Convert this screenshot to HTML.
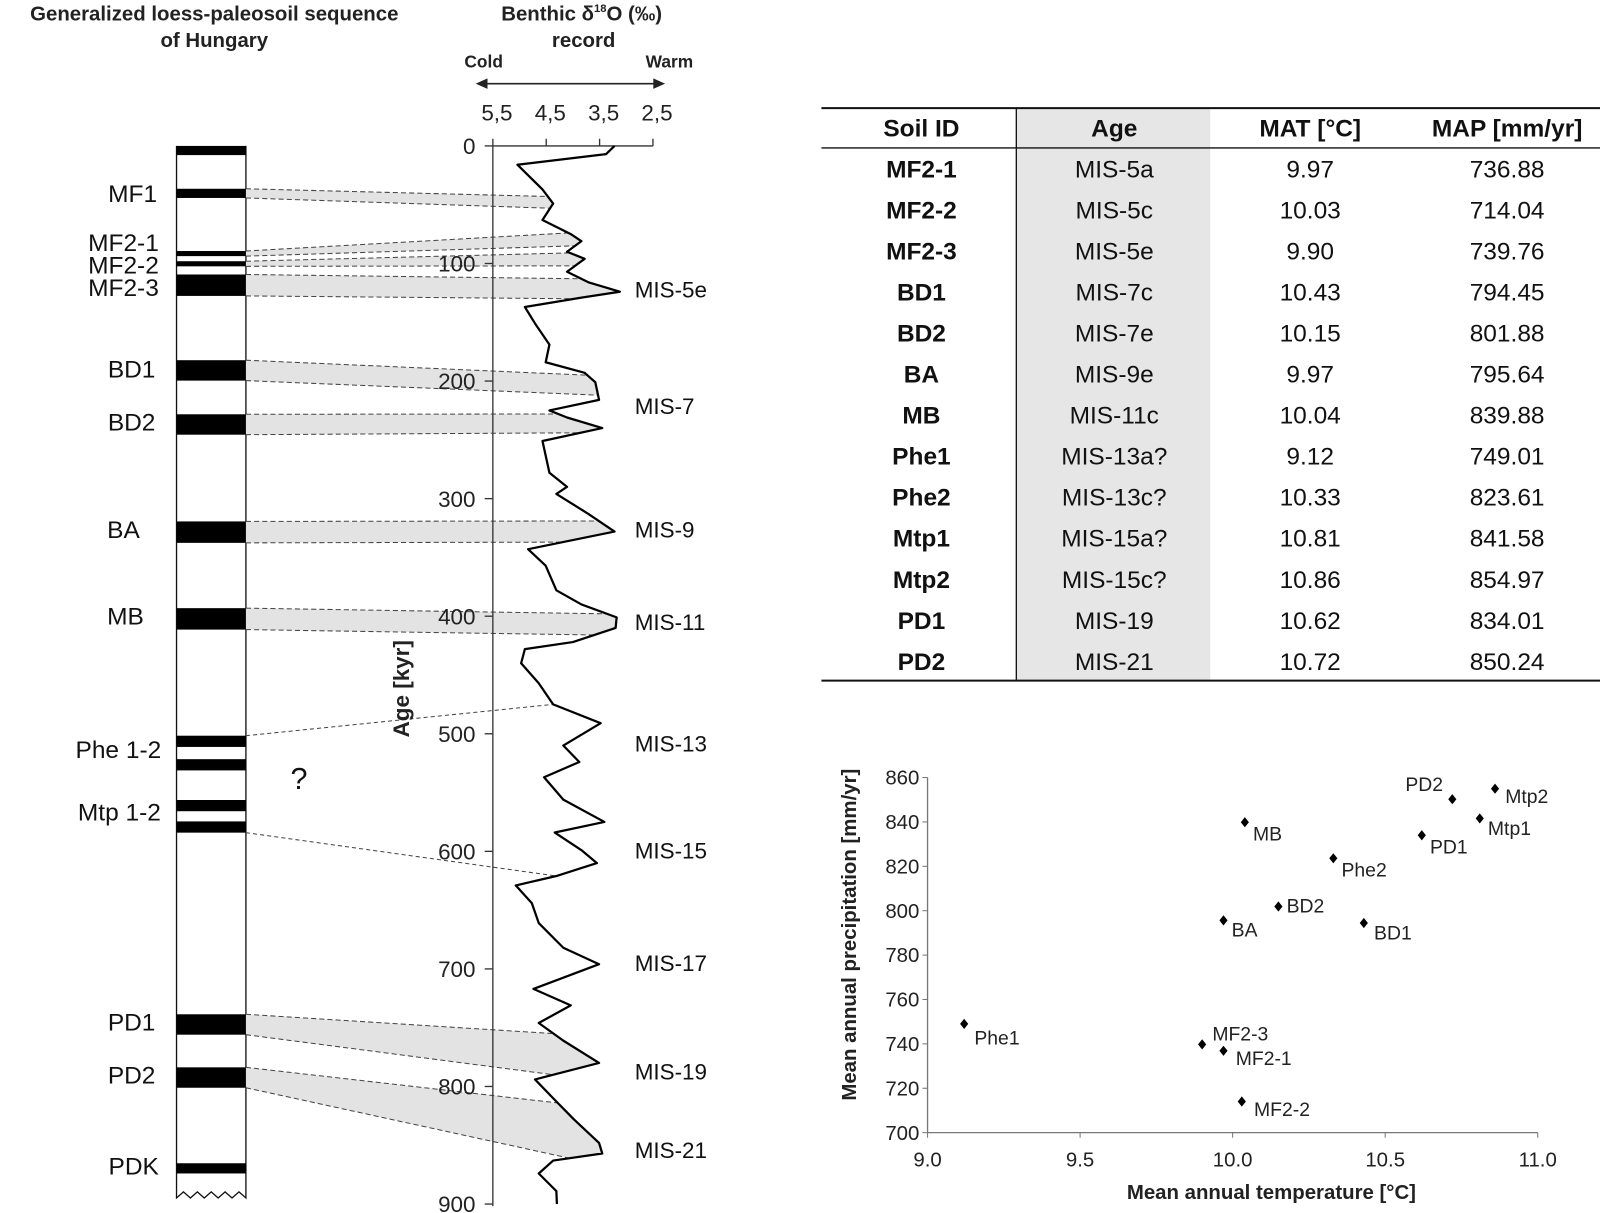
<!DOCTYPE html>
<html><head><meta charset="utf-8"><style>
body{margin:0;background:#fff;}
svg{display:block;font-family:"Liberation Sans",Arial,sans-serif;}
</style></head><body>
<svg id="fig" width="1600" height="1213" viewBox="0 0 1600 1213" xmlns="http://www.w3.org/2000/svg">
<g transform="scale(1.0204)">
<g id="left"></g>
<g id="table"></g>
<g id="scatter"></g>
</g>
</svg>
<script>
// ---------- δ18O record data ----------
const curveAges = [0,7,16,37,49,63,75,81,90,96,107,116,124,129,137,151,169,184,193,201,216,225,231,240,251,278,290,296,313,328,343,357,378,390,401,410,422,428,440,457,475,491,510,524,537,556,575,584,599,610,621,629,644,661,682,696,717,731,746,761,780,794,810,828,848,857,863,874,889,900];
const curveVals = [3.22,3.38,5.04,4.57,4.37,4.57,4.04,3.84,4.11,3.78,4.11,3.71,3.12,3.84,4.90,4.71,4.44,4.51,3.78,3.58,3.51,4.44,4.11,3.45,4.57,4.44,4.11,4.31,3.71,3.22,4.84,4.51,4.31,3.84,3.18,3.20,4.0,4.90,4.97,4.64,4.37,3.48,4.18,3.88,4.54,4.18,3.41,4.34,3.84,3.55,4.31,5.07,4.77,4.64,4.18,3.51,4.74,4.04,4.64,4.18,3.51,4.71,4.37,3.98,3.51,3.45,4.37,4.64,4.31,4.3];
const ageTicks = [0,100,200,300,400,500,600,700,800,900];
const isoTicks = [5.5,4.5,3.5,2.5];
const isoTickLabels = ["5,5","4,5","3,5","2,5"];
const soilNames = ["top","MF1","MF2-1","MF2-2","MF2-3","BD1","BD2","BA","MB","Phe1","Phe2","Mtp1","Mtp2","PD1","PD2","PDK"];
const soilTops = [143,185,246,256,269,353,406,511,596,721,744,784,805,994,1046,1140];
const soilBots = [152,194,251,261,290,373,426,532,617,732,755,795,816,1014,1066,1150];
const corrSoil = ["MF1","MF2-1","MF2-2","MF2-3","BD1","BD2","BA","MB","PD1","PD2"];
const corrAgeTop = [43,74,91,113,195,228,319,398,755,814];
const corrAgeBot = [53,85,102,130,212,244,337,416,790,861];
const misNames = ["MIS-5e","MIS-7","MIS-9","MIS-11","MIS-13","MIS-15","MIS-17","MIS-19","MIS-21"];
const misAges = [122,221,326,405,508,599,695,787,854];
// ---------- table data ----------
const tIds = ["MF2-1","MF2-2","MF2-3","BD1","BD2","BA","MB","Phe1","Phe2","Mtp1","Mtp2","PD1","PD2"];
const tAges = ["MIS-5a","MIS-5c","MIS-5e","MIS-7c","MIS-7e","MIS-9e","MIS-11c","MIS-13a?","MIS-13c?","MIS-15a?","MIS-15c?","MIS-19","MIS-21"];
const tMAT = [9.97,10.03,9.90,10.43,10.15,9.97,10.04,9.12,10.33,10.81,10.86,10.62,10.72];
const tMAP = [736.88,714.04,739.76,794.45,801.88,795.64,839.88,749.01,823.61,841.58,854.97,834.01,850.24];
const xTicks = [9.0,9.5,10.0,10.5,11.0];
const yTicks = [700,720,740,760,780,800,820,840,860];
const labelDx = [12,12,10,10,8,8,8,10,8,8,10,8,-46];
const labelDy = [14,14,-4,16,6,16,18,20,18,16,14,18,-8];

const NS="http://www.w3.org/2000/svg";
function mk(parent,tag,attrs,text){const e=document.createElementNS(NS,tag);for(const k in attrs)e.setAttribute(k,attrs[k]);if(text!==undefined)e.textContent=text;parent.appendChild(e);return e;}

const ageY = a => 143 + a*1.1522;
const isoX = v => 483 + (5.5-v)*52.3;
function valAt(age){for(let i=0;i<curveAges.length-1;i++){if(age>=curveAges[i]&&age<=curveAges[i+1]){const t=(age-curveAges[i])/(curveAges[i+1]-curveAges[i]);return curveVals[i]+t*(curveVals[i+1]-curveVals[i]);}}return curveVals[curveVals.length-1];}

const L=document.getElementById('left');
let t;
t=mk(L,'text',{x:210,y:20,'text-anchor':'middle','font-size':20,'font-weight':'bold',fill:'#222'},'Generalized loess-paleosoil sequence');

t=mk(L,'text',{x:210,y:46,'text-anchor':'middle','font-size':20,'font-weight':'bold',fill:'#222'},'of Hungary');

t=mk(L,'text',{x:570,y:20,'text-anchor':'middle','font-size':20,'font-weight':'bold',fill:'#222'});

t.innerHTML='Benthic δ<tspan font-size="11" dy="-8">18</tspan><tspan dy="8">O (‰)</tspan>';
t=mk(L,'text',{x:572,y:46,'text-anchor':'middle','font-size':20,'font-weight':'bold',fill:'#222'},'record');

t=mk(L,'text',{x:474,y:66,'text-anchor':'middle','font-size':17,'font-weight':'bold',fill:'#222'},'Cold');

t=mk(L,'text',{x:656,y:66,'text-anchor':'middle','font-size':17,'font-weight':'bold',fill:'#222'},'Warm');

t=mk(L,'path',{d:'M468 82 H650 M468 82 l9 -4 v8 z M650 82 l-9 -4 v8 z',stroke:'#222','stroke-width':1.5,fill:'#222'});


t=mk(L,'path',{d:'M173 143 V1174 l6.8 -6 l6.8 6 l6.8 -6 l6.8 6 l6.8 -6 l6.8 6 l6.8 -6 l6.8 6 l6.8 -6 l6.8 6 V143',fill:'#fff',stroke:'#111','stroke-width':1.3});

soilNames.forEach((n,i)=>{const r=mk(L,'rect',{x:173,y:soilTops[i],width:68,height:soilBots[i]-soilTops[i],fill:'#000'});
});

corrSoil.forEach((n,i)=>{const si=soilNames.indexOf(n);const yT=soilTops[si],yB=soilBots[si];
 const a1=corrAgeTop[i],a2=corrAgeBot[i];let pts=[[241,yT],[isoX(valAt(a1)),ageY(a1)]];
 curveAges.forEach((a,k)=>{if(a>a1&&a<a2)pts.push([isoX(curveVals[k]),ageY(a)]);});
 pts.push([isoX(valAt(a2)),ageY(a2)]);pts.push([241,yB]);
 const p=mk(L,'polygon',{points:pts.map(q=>q.join(',')).join(' '),fill:'#e3e3e3'});
 
 [[yT,a1],[yB,a2]].forEach(([y,a])=>{const l=mk(L,'line',{x1:241,y1:y,x2:isoX(valAt(a)),y2:ageY(a),stroke:'#444','stroke-width':1,'stroke-dasharray':'5,3'});
 });
});
[["Phe1",475,true],["Mtp2",621,false]].forEach(([n,a,top])=>{const si=soilNames.indexOf(n);const y=top?soilTops[si]:soilBots[si];
 const l=mk(L,'line',{x1:241,y1:y,x2:isoX(valAt(a)),y2:ageY(a),stroke:'#444','stroke-width':1,'stroke-dasharray':'4,3'});
 });

const sl=[["MF1",130,198],["MF2-1",121,246],["MF2-2",121,268],["MF2-3",121,290],["BD1",129,370],["BD2",129,422],["BA",121,527],["MB",123,612],["Phe 1-2",116,743],["Mtp 1-2",117,804],["PD1",129,1010],["PD2",129,1062],["PDK",131,1151]];
sl.forEach(([s,x,y])=>{const e=mk(L,'text',{x:x,y:y,'text-anchor':'middle','font-size':24,fill:'#111'},s);
 });
t=mk(L,'text',{x:293,y:773,'text-anchor':'middle','font-size':30,fill:'#111'},'?');


t=mk(L,'line',{x1:483,y1:143,x2:483,y2:1182,stroke:'#333','stroke-width':1.3});

t=mk(L,'line',{x1:483,y1:143,x2:isoX(2.5),y2:143,stroke:'#333','stroke-width':1.3});

isoTicks.forEach((v,i)=>{const x=isoX(v);const k=mk(L,'line',{x1:x,y1:143,x2:x,y2:136,stroke:'#333','stroke-width':1.3});
 
 const e=mk(L,'text',{x:x+4,y:118,'text-anchor':'middle','font-size':22,fill:'#222'},isoTickLabels[i]);
 });
ageTicks.forEach(a=>{const y=ageY(a);const k=mk(L,'line',{x1:475,y1:y,x2:483,y2:y,stroke:'#333','stroke-width':1.3});
 
 const e=mk(L,'text',{x:466,y:y+8,'text-anchor':'end','font-size':22,fill:'#222'},String(a));
 });
t=mk(L,'text',{x:0,y:0,transform:'translate(401,675) rotate(-90)','text-anchor':'middle','font-size':22,'font-weight':'bold',fill:'#222'},'Age [kyr]');


t=mk(L,'polyline',{points:curveAges.map((a,i)=>isoX(curveVals[i])+','+ageY(a)).join(' '),fill:'none',stroke:'#000','stroke-width':2.2,'stroke-linejoin':'round'});

misNames.forEach((m,i)=>{const e=mk(L,'text',{x:622,y:ageY(misAges[i])+8,'font-size':22,fill:'#111'},m);
 });

// ---------- table ----------
const T=document.getElementById('table');
const tx0=805,tx1=1568,ty0=106,th=145,rh=40.2;
t=mk(T,'rect',{x:996,y:ty0,width:190,height:667-ty0,fill:'#e6e6e6'});

[[ty0,2],[th,1.3],[667,2]].forEach(([y,w])=>{const l=mk(T,'line',{x1:tx0,y1:y,x2:tx1,y2:y,stroke:'#111','stroke-width':w});
 });
t=mk(T,'line',{x1:996,y1:ty0,x2:996,y2:667,stroke:'#111','stroke-width':1.3});

const cx=[903,1092,1284,1477];
["Soil ID","Age","MAT [°C]","MAP [mm/yr]"].forEach((h,i)=>{const e=mk(T,'text',{x:cx[i],y:134,'text-anchor':'middle','font-size':24,'font-weight':'bold',fill:'#111'},h);
 });
tIds.forEach((id,r)=>{const y=th+rh*r+29;
 const cells=[id,tAges[r],tMAT[r].toFixed(2),tMAP[r].toFixed(2)];
 cells.forEach((c,i)=>{const e=mk(T,'text',{x:cx[i],y:y,'text-anchor':'middle','font-size':24,'font-weight':i==0?'bold':'normal',fill:'#111'},c);
 });});

// ---------- scatter ----------
const S=document.getElementById('scatter');
const sx=v=>909+(v-9)*299, sy=v=>1110-(v-700)*2.175;
t=mk(S,'path',{d:'M909 762 V1110 H1507',fill:'none',stroke:'#777','stroke-width':1.3});

xTicks.forEach(v=>{const x=sx(v);const k=mk(S,'line',{x1:x,y1:1110,x2:x,y2:1115,stroke:'#777'});
 
 const e=mk(S,'text',{x:x,y:1143,'text-anchor':'middle','font-size':20,fill:'#222'},v.toFixed(1));
 });
yTicks.forEach(v=>{const y=sy(v);const k=mk(S,'line',{x1:904,y1:y,x2:909,y2:y,stroke:'#777'});
 
 const e=mk(S,'text',{x:901,y:y+7,'text-anchor':'end','font-size':20,fill:'#222'},String(v));
 });
t=mk(S,'text',{x:1246,y:1175,'text-anchor':'middle','font-size':20,'font-weight':'bold',fill:'#222'},'Mean annual temperature [°C]');

t=mk(S,'text',{x:0,y:0,transform:'translate(839,916) rotate(-90)','text-anchor':'middle','font-size':20,'font-weight':'bold',fill:'#222'},'Mean annual precipitation [mm/yr]');

tIds.forEach((id,i)=>{const x=sx(tMAT[i]),y=sy(tMAP[i]);
 const d=mk(S,'path',{d:`M${x} ${y-5} L${x+4} ${y} L${x} ${y+5} L${x-4} ${y} Z`,fill:'#000'});
 
 const e=mk(S,'text',{x:x+labelDx[i],y:y+labelDy[i],'font-size':19,fill:'#222'},id);
 });
</script>
</body></html>
